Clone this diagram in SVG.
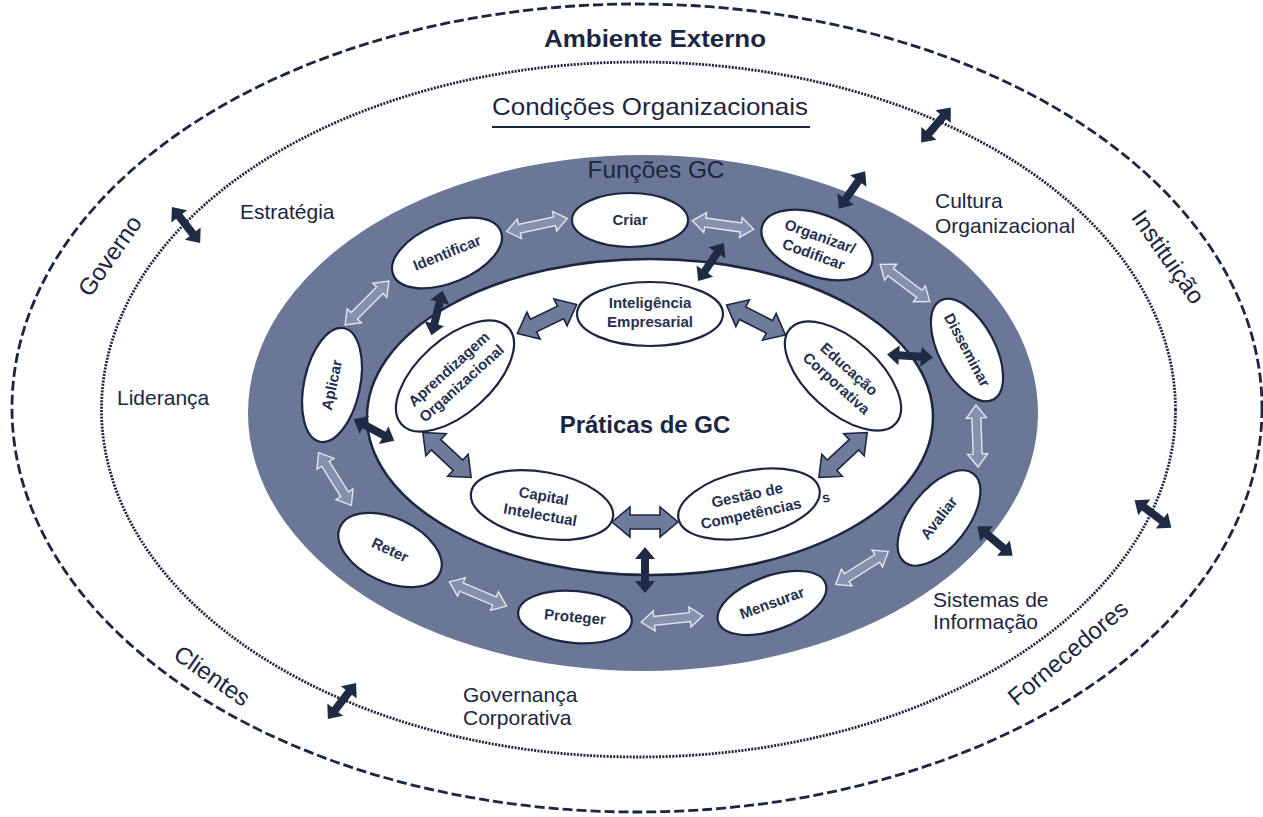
<svg xmlns="http://www.w3.org/2000/svg" xmlns:xlink="http://www.w3.org/1999/xlink" width="1263" height="817" viewBox="0 0 1263 817">
<style>
.lbl{font-family:"Liberation Sans",Arial,sans-serif;fill:#1d2640;font-size:21px}
.big{font-family:"Liberation Sans",Arial,sans-serif;fill:#1d2640;font-size:24px;text-anchor:middle}
.node ellipse{fill:#fff;stroke:#1d2640;stroke-width:2.2}
.node text{font-family:"Liberation Sans",Arial,sans-serif;font-weight:bold;font-size:15px;fill:#263050;text-anchor:middle}
.al{fill:#8591ae;stroke:#e2e6ee;stroke-width:1.4}
.am{fill:#6e7b9b;stroke:#1d2640;stroke-width:1.6}
.ad{fill:#1f2a44}
</style>
<defs>
<path id="arL" d="M-31,0 L-18,-10 L-18,-4.5 L18,-4.5 L18,-10 L31,0 L18,10 L18,4.5 L-18,4.5 L-18,10 Z"/>
<path id="arM" d="M-33,0 L-15,-15 L-15,-7 L15,-7 L15,-15 L33,0 L15,15 L15,7 L-15,7 L-15,15 Z"/>
<path id="arD" d="M-23,0 L-11,-10 L-11,-4 L11,-4 L11,-10 L23,0 L11,10 L11,4 L-11,4 L-11,10 Z"/>
</defs>
<rect width="1263" height="817" fill="#fff"/>

<g id="rings">
<ellipse cx="637" cy="408" rx="625" ry="404" fill="none" stroke="#1d2640" stroke-width="2.8" stroke-dasharray="10 4"/>
<ellipse cx="638.5" cy="409.5" rx="537" ry="347.5" fill="none" stroke="#1d2640" stroke-width="2.8" stroke-dasharray="2 1.3"/>
<ellipse cx="643" cy="413" rx="395" ry="258" fill="#6a7796"/>
<ellipse cx="650" cy="417" rx="283" ry="158" fill="#fff" stroke="#1d2640" stroke-width="2.5"/>
</g>

<g id="titles">
<text class="big" x="655" y="47" font-weight="bold" textLength="222" lengthAdjust="spacingAndGlyphs">Ambiente Externo</text>
<text class="big" x="650" y="115" font-size="26" textLength="316" lengthAdjust="spacingAndGlyphs">Condições Organizacionais</text>
<line x1="492" y1="127" x2="810" y2="127" stroke="#1d2640" stroke-width="2"/>
<text class="big" x="656" y="178" textLength="137" lengthAdjust="spacingAndGlyphs" fill="#1a2238">Funções GC</text>
<text class="big" x="645" y="433" font-size="28" font-weight="bold">Práticas de GC</text>
</g>

<g id="conditions">
<text class="lbl" x="240" y="219">Estratégia</text>
<text class="lbl" x="117" y="405">Liderança</text>
<text class="lbl" x="935" y="208">Cultura</text>
<text class="lbl" x="935" y="233">Organizacional</text>
<text class="lbl" x="933" y="607">Sistemas de</text>
<text class="lbl" x="933" y="629">Informação</text>
<text class="lbl" x="463" y="702">Governança</text>
<text class="lbl" x="463" y="725">Corporativa</text>
</g>

<g id="external">
<text class="big" transform="translate(110,256) rotate(-55)" y="8">Governo</text>
<text class="big" transform="translate(1168,257) rotate(55)" y="8">Instituição</text>
<text class="big" transform="translate(212,676) rotate(35)" y="8">Clientes</text>
<text class="big" transform="translate(1068,653) rotate(-40)" y="8">Fornecedores</text>
</g>

<g id="connectors">
<use xlink:href="#arL" class="al" transform="translate(537,225) rotate(-12)"/>
<use xlink:href="#arL" class="al" transform="translate(723,225) rotate(8)"/>
<use xlink:href="#arL" class="al" transform="translate(905,283) rotate(37)"/>
<use xlink:href="#arL" class="al" transform="translate(977,436) rotate(88)"/>
<use xlink:href="#arL" class="al" transform="translate(862,568) rotate(-32)"/>
<use xlink:href="#arL" class="al" transform="translate(672,619) rotate(-6)"/>
<use xlink:href="#arL" class="al" transform="translate(478,594) rotate(23)"/>
<use xlink:href="#arL" class="al" transform="translate(335,479) rotate(58)"/>
<use xlink:href="#arL" class="al" transform="translate(367,303) rotate(-45)"/>

<use xlink:href="#arM" class="am" transform="translate(547,319) rotate(-26)"/>
<use xlink:href="#arM" class="am" transform="translate(756,320) rotate(27)"/>
<use xlink:href="#arM" class="am" transform="translate(447,455) rotate(43)"/>
<use xlink:href="#arM" class="am" transform="translate(843,455) rotate(-43)"/>
<use xlink:href="#arM" class="am" transform="translate(645,522)"/>

<use xlink:href="#arD" class="ad" transform="translate(437,313) rotate(-76)"/>
<use xlink:href="#arD" class="ad" transform="translate(711,262) rotate(-56)"/>
<use xlink:href="#arD" class="ad" transform="translate(852,190) rotate(-55)"/>
<use xlink:href="#arD" class="ad" transform="translate(910,356) rotate(4)"/>
<use xlink:href="#arD" class="ad" transform="translate(374,430) rotate(28)"/>
<use xlink:href="#arD" class="ad" transform="translate(645,570) rotate(90)"/>
<use xlink:href="#arD" class="ad" transform="translate(995,541) rotate(40)"/>
<use xlink:href="#arD" class="ad" transform="translate(936,125) rotate(-50)"/>
<use xlink:href="#arD" class="ad" transform="translate(186,225) rotate(52)"/>
<use xlink:href="#arD" class="ad" transform="translate(342,701) rotate(-52)"/>
<use xlink:href="#arD" class="ad" transform="translate(1153,514) rotate(37)"/>
</g>

<g id="n-identificar" class="node" transform="translate(447,253) rotate(-22)"><ellipse rx="58" ry="30"/><text y="5">Identificar</text></g>
<g id="n-criar" class="node" transform="translate(630,220)"><ellipse rx="58" ry="27"/><text y="5">Criar</text></g>
<g id="n-organizar" class="node" transform="translate(817,245) rotate(20)"><ellipse rx="58" ry="31"/><text y="-4">Organizar/</text><text y="15">Codificar</text></g>
<g id="n-disseminar" class="node" transform="translate(967,350) rotate(62)"><ellipse rx="56" ry="28"/><text y="5">Disseminar</text></g>
<g id="n-avaliar" class="node" transform="translate(939,518) rotate(-52)"><ellipse rx="56" ry="29"/><text y="5">Avaliar</text></g>
<g id="n-mensurar" class="node" transform="translate(772,603) rotate(-20)"><ellipse rx="57" ry="27"/><text y="5">Mensurar</text></g>
<g id="n-proteger" class="node" transform="translate(575,617) rotate(5)"><ellipse rx="57" ry="26"/><text y="5">Proteger</text></g>
<g id="n-reter" class="node" transform="translate(390,550) rotate(25)"><ellipse rx="55" ry="32"/><text y="5">Reter</text></g>
<g id="n-aplicar" class="node" transform="translate(332,385) rotate(-78)"><ellipse rx="58" ry="28"/><text y="5">Aplicar</text></g>

<g id="p-inteligencia" class="node" transform="translate(650,314)"><ellipse rx="73" ry="32"/><text y="-6">Inteligência</text><text y="13">Empresarial</text></g>
<g id="p-aprendizagem" class="node" transform="translate(455,376) rotate(-42)"><ellipse rx="72" ry="37"/><text y="-4">Aprendizagem</text><text y="15">Organizacional</text></g>
<g id="p-educacao" class="node" transform="translate(843,376) rotate(42)"><ellipse rx="71" ry="36"/><text y="-4">Educação</text><text y="15">Corporativa</text></g>
<g id="p-capital" class="node" transform="translate(542,505) rotate(10)"><ellipse rx="72" ry="33"/><text y="-4">Capital</text><text y="15">Intelectual</text></g>
<g id="p-gestao" class="node" transform="translate(749,504) rotate(-12)"><ellipse rx="72" ry="33"/><text y="-4">Gestão de</text><text y="15">Competências</text></g>
<text x="822" y="503" transform="rotate(-12 822 498)" font-family="Liberation Sans, Arial, sans-serif" font-weight="bold" font-size="14" fill="#263050">s</text>
</svg>
